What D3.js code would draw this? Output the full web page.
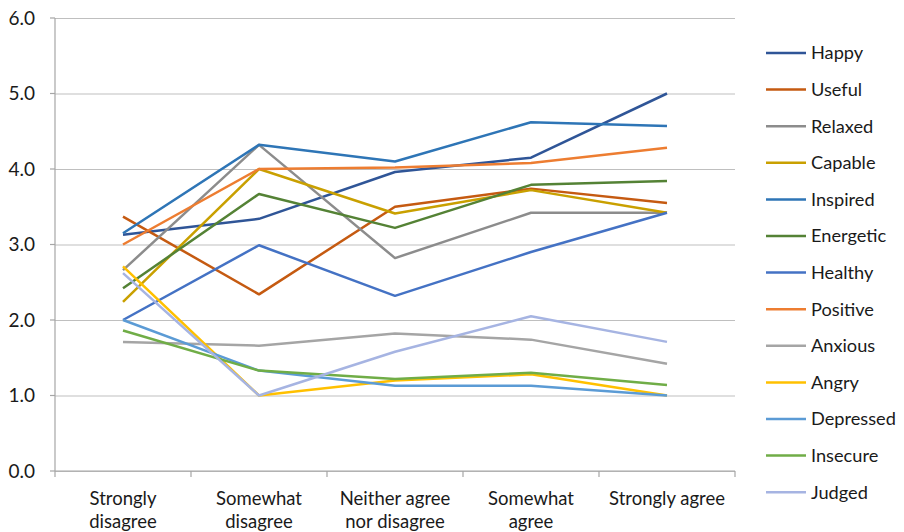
<!DOCTYPE html>
<html>
<head>
<meta charset="utf-8">
<script src="https://cdn.jsdelivr.net/npm/d3@7"></script>
<style>
  html, body { margin: 0; padding: 0; background: #ffffff; }
  svg { display: block; font-family: Lato, "Open Sans", sans-serif; }
</style>
</head>
<body>
<svg id="chart" width="904" height="532"></svg>
<script>
// Agreement scale along the x axis (each label split into its display lines)
const categories = [
  ["Strongly", "disagree"],
  ["Somewhat", "disagree"],
  ["Neither agree", "nor disagree"],
  ["Somewhat", "agree"],
  ["Strongly agree"]
];

const yTicks = [0, 1, 2, 3, 4, 5, 6];

// Mean rating of each feeling per agreement level
const seriesNames = ["Happy", "Useful", "Relaxed", "Capable", "Inspired", "Energetic",
  "Healthy", "Positive", "Anxious", "Angry", "Depressed", "Insecure", "Judged"];

const happy     = [3.13, 3.34, 3.96, 4.15, 5.00];
const useful    = [3.37, 2.34, 3.50, 3.74, 3.55];
const relaxed   = [2.66, 4.32, 2.82, 3.42, 3.42];
const capable   = [2.24, 4.00, 3.41, 3.72, 3.42];
const inspired  = [3.15, 4.32, 4.10, 4.62, 4.57];
const energetic = [2.42, 3.67, 3.22, 3.79, 3.84];
const healthy   = [2.00, 2.99, 2.32, 2.90, 3.42];
const positive  = [3.00, 4.00, 4.02, 4.08, 4.28];
const anxious   = [1.71, 1.66, 1.82, 1.74, 1.42];
const angry     = [2.71, 1.00, 1.20, 1.28, 1.00];
const depressed = [2.00, 1.33, 1.13, 1.13, 1.00];
const insecure  = [1.86, 1.33, 1.22, 1.30, 1.14];
const judged    = [2.62, 1.00, 1.58, 2.05, 1.71];

const seriesValues = [happy, useful, relaxed, capable, inspired, energetic,
  healthy, positive, anxious, angry, depressed, insecure, judged];

const seriesColors = ["#2F5597", "#C55A11", "#8C8C8C", "#C9A000", "#2E75B6", "#548235",
  "#4472C4", "#ED7D31", "#A5A5A5", "#FFC000", "#5B9BD5", "#70AD47", "#A6B4E2"];

const svg = d3.select("#chart");
const plot = { left: 55, right: 735, top: 18, bottom: 471 };
const textColor = "#1a1a1a";

const x = d3.scaleBand()
  .domain(d3.range(categories.length))
  .range([plot.left, plot.right]);

const y = d3.scaleLinear()
  .domain([0, 6])
  .range([plot.bottom, plot.top]);

// Horizontal gridlines with y tick labels
const yAxis = svg.append("g")
  .attr("transform", `translate(${plot.left},0)`)
  .call(d3.axisLeft(y).tickValues(yTicks).tickFormat(d3.format(".1f"))
    .tickSize(-(plot.right - plot.left)).tickPadding(20));
yAxis.select(".domain").remove();
yAxis.selectAll(".tick line").attr("stroke", "#BFBFBF").attr("stroke-width", 1.2);
yAxis.selectAll(".tick text")
  .attr("font-size", 19).attr("fill", textColor)
  .attr("font-family", "Lato, 'Open Sans', sans-serif");

// Short outward tick marks on the value axis
svg.append("g").selectAll("line").data(yTicks).join("line")
  .attr("x1", plot.left - 5).attr("x2", plot.left)
  .attr("y1", d => y(d)).attr("y2", d => y(d))
  .attr("stroke", "#A6A6A6").attr("stroke-width", 1.2);

// Value axis line
svg.append("line")
  .attr("x1", plot.left).attr("x2", plot.left)
  .attr("y1", plot.top).attr("y2", plot.bottom)
  .attr("stroke", "#A6A6A6").attr("stroke-width", 1.2);

// Category axis line and tick marks between categories
svg.append("line")
  .attr("x1", plot.left).attr("x2", plot.right)
  .attr("y1", plot.bottom).attr("y2", plot.bottom)
  .attr("stroke", "#A6A6A6").attr("stroke-width", 1.2);

const boundaries = d3.range(categories.length + 1).map(i =>
  i < categories.length ? x(i) : x(categories.length - 1) + x.bandwidth());
svg.append("g").selectAll("line").data(boundaries).join("line")
  .attr("x1", d => d).attr("x2", d => d)
  .attr("y1", plot.bottom).attr("y2", plot.bottom + 6)
  .attr("stroke", "#A6A6A6").attr("stroke-width", 1.2);

// Category labels
const catLabels = svg.append("g").selectAll("text").data(categories).join("text")
  .attr("text-anchor", "middle")
  .attr("font-size", 18.5)
  .attr("fill", textColor)
  .attr("transform", (d, i) => `translate(${x(i) + x.bandwidth() / 2},505)`);
catLabels.selectAll("tspan").data(d => d).join("tspan")
  .attr("x", 0)
  .attr("dy", (d, i) => i === 0 ? 0 : 23)
  .text(d => d);

// One line per feeling
const line = d3.line()
  .x((d, i) => x(i) + x.bandwidth() / 2)
  .y(d => y(d));

svg.append("g").selectAll("path").data(seriesValues).join("path")
  .attr("d", line)
  .attr("fill", "none")
  .attr("stroke", (d, i) => seriesColors[i])
  .attr("stroke-width", 2.5)
  .attr("stroke-linejoin", "round");

// Legend
const legend = svg.append("g").selectAll("g").data(seriesNames).join("g")
  .attr("transform", (d, i) => `translate(766,${53 + i * 36.6})`);
legend.append("line")
  .attr("x1", 0).attr("x2", 40)
  .attr("stroke", (d, i) => seriesColors[i])
  .attr("stroke-width", 2.5);
legend.append("text")
  .attr("x", 45).attr("dy", "0.35em")
  .attr("font-size", 18.2).attr("fill", textColor)
  .text(d => d);
</script>
</body>
</html>
